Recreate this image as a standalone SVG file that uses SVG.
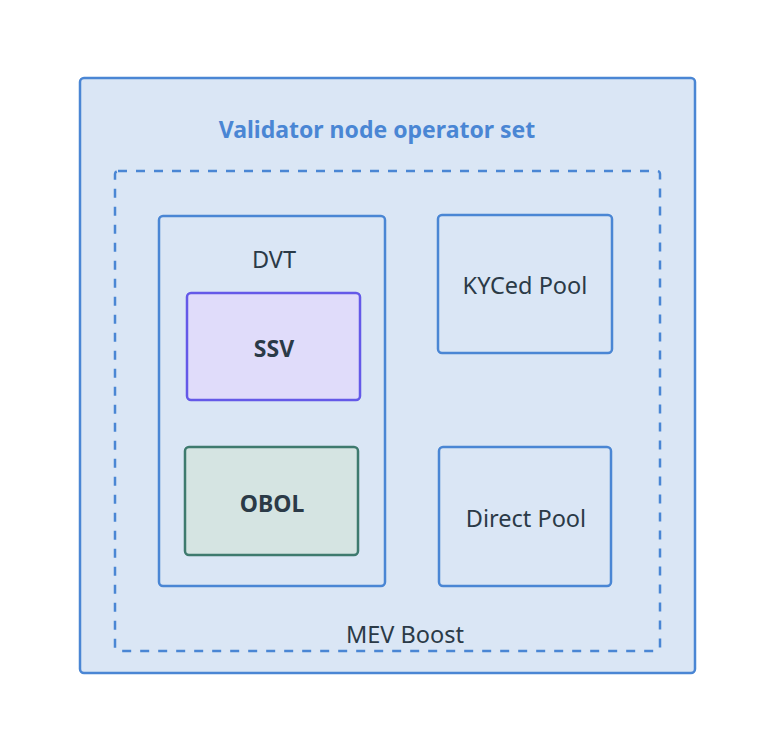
<svg xmlns="http://www.w3.org/2000/svg" width="776" height="756" viewBox="0 0 776 756">
<style>
.box{fill:#dae6f5;stroke:#4a86d4;stroke-width:2.5}
.t{font-family:"Noto Sans","Liberation Sans",sans-serif;font-size:23.5px;fill:#2b3a47;text-anchor:middle}
.b{font-weight:bold;font-size:23px}
</style>
<rect width="776" height="756" fill="#ffffff"/>
<g id="operator-set">
<rect class="box" x="80" y="78" width="615" height="595" rx="4"/>
<text x="377" y="138" font-family="Noto Sans, Liberation Sans, sans-serif" font-size="23" font-weight="bold" fill="#4a86d4" text-anchor="middle">Validator node operator set</text>
</g>
<g id="mev-boost">
<rect x="115" y="171" width="545" height="480" rx="3" fill="none" stroke="#4a86d4" stroke-width="2.5" stroke-dasharray="9,9"/>
<text class="t" x="405" y="643">MEV Boost</text>
</g>
<g id="dvt">
<rect class="box" x="159" y="216" width="226" height="370" rx="4"/>
<text class="t" x="274" y="268">DVT</text>
</g>
<g id="ssv">
<rect x="187" y="293" width="173" height="107" rx="4" fill="#e0dcfa" stroke="#6459e8" stroke-width="2.5"/>
<text class="t b" x="274" y="357" font-size="25">SSV</text>
</g>
<g id="obol">
<rect x="185" y="447" width="173" height="108" rx="4" fill="#d5e4e2" stroke="#3e7a6e" stroke-width="2.5"/>
<text class="t b" x="272" y="512">OBOL</text>
</g>
<g id="kyced-pool">
<rect class="box" x="438" y="215" width="174" height="138" rx="4"/>
<text class="t" x="525" y="294">KYCed Pool</text>
</g>
<g id="direct-pool">
<rect class="box" x="439" y="447" width="172" height="139" rx="4"/>
<text class="t" x="526" y="527">Direct Pool</text>
</g>
<g id="connectors"></g>
</svg>
